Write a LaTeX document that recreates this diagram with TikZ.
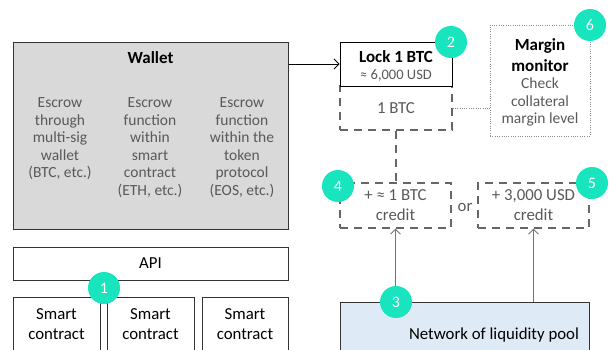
\documentclass[tikz,border=0pt]{standalone}
\usepackage{fontspec}
\setmainfont{Carlito}
\usetikzlibrary{arrows.meta}
\definecolor{badgegreen}{RGB}{24,228,190}
\definecolor{walletgray}{RGB}{217,217,217}
\definecolor{poolblue}{RGB}{222,234,246}
\colorlet{textgray}{black!65}
\colorlet{linegray}{black!60}

\begin{document}
\begin{tikzpicture}[x=1pt,y=-1pt,
    box/.style={draw=black!80, line width=1pt, inner sep=0pt},
    dashbox/.style={draw=linegray, line width=1.3pt, dash pattern=on 8pt off 6pt, inner sep=0pt},
    dotbox/.style={draw=black!45, line width=0.9pt, dash pattern=on 1pt off 1.3pt, inner sep=0pt},
    title/.style={inner sep=0pt, font=\fontsize{17}{21}\selectfont\bfseries, align=center},
    note/.style={inner sep=0pt, text=textgray, font=\fontsize{15.5}{17.5}\selectfont, align=center},
    plain/.style={inner sep=0pt, font=\fontsize{16.8}{20}\selectfont, align=center},
    credittext/.style={inner sep=0pt, text=textgray, font=\fontsize{16.8}{20}\selectfont, align=center},
    badge/.style={circle, fill=badgegreen, minimum size=32pt, inner sep=0pt, text=white, font=\fontsize{16}{16}\selectfont},
    arrowline/.style={draw=black!55, line width=0.8pt, -{Straight Barb[length=5pt, width=10pt]}}
  ]
  \useasboundingbox (0,0) rectangle (612,349);
  \clip (0,0) rectangle (612,349);

  % left column
  \node[box, fill=walletgray, minimum width=275pt, minimum height=187pt] (wallet) at (150.5,135.5) {};
  \node[title] (wallettitle) at (150.5,58) {Wallet};
  \foreach \x/\txt [count=\i] in {60/{Escrow\\through\\multi-sig\\wallet\\(BTC, etc.)},
      150/{Escrow\\function\\within\\smart\\contract\\(ETH, etc.)},
      242/{Escrow\\function\\within the\\token\\protocol\\(EOS, etc.)}}{
    \node[note, anchor=north] (escrow\i) at (\x,97.5) {\txt};
  }
  \node[box, minimum width=275pt, minimum height=33pt, font=\fontsize{16.8}{20}\selectfont] (api) at (150.5,263.5) {API};
  \foreach \x/\w [count=\i] in {56.5/87, 150.5/87, 245/86}{
    \node[box, minimum width=\w pt, minimum height=63pt] (contract\i) at (\x,328.5) {};
    \node[plain] (contracttext\i) at (\x,324) {Smart\\contract};
  }

  % right column
  \node[dashbox, minimum width=112pt, minimum height=44pt, text=textgray, font=\fontsize{16.8}{20}\selectfont] (btc) at (396,108) {1 BTC};
  \node[box, draw=black, fill=white, minimum width=112pt, minimum height=44pt] (lock) at (396,64) {};
  \node[title] (locktitle) at (396,57) {Lock 1 BTC};
  \node[note, font=\fontsize{14.5}{16}\selectfont] (lockusd) at (396,76) {≈ 6,000 USD};

  \node[dotbox, minimum width=100pt, minimum height=111pt] (margin) at (540,80.5) {};
  \node[title, anchor=north] (margintitle) at (540,38) {Margin\\monitor};
  \node[note, anchor=north] (margintext) at (540,78) {Check\\collateral\\margin level};

  \node[dashbox, minimum width=111pt, minimum height=45pt] (credit1) at (395.5,205.5) {};
  \node[credittext] (credittext1) at (395.5,205) {+ ≈ 1 BTC\\credit};
  \node[dashbox, minimum width=111pt, minimum height=45pt] (credit2) at (533.5,205.5) {};
  \node[credittext] (credittext2) at (533.5,205) {+ 3,000 USD\\credit};
  \node[credittext] (orlabel) at (465,207) {or};

  \node[box, fill=poolblue, minimum width=249pt, minimum height=68pt] (pool) at (464.5,336) {};
  \node[plain] (pooltext) at (494,335) {Network of liquidity pool};

  % connectors
  \draw[black, line width=0.8pt, -{Straight Barb[length=5pt, width=10pt]}] (wallet.east |- lock.west) -- (lock.west);
  \draw[black!45, line width=0.9pt, dash pattern=on 1pt off 1.3pt] (btc.east) -- (margin.west |- btc.east);
  \draw[linegray, line width=1.3pt, dash pattern=on 8pt off 6pt] (btc.south) -- (credit1.north -| btc.south);
  \draw[arrowline] (pool.north -| credit1.south) -- (credit1.south);
  \draw[arrowline] (pool.north -| credit2.south) -- (credit2.south);

  % badges
  \foreach \n/\x/\y in {1/104/288, 2/451/42, 3/396/302, 4/338/186, 5/592/183, 6/590/25}{
    \node[badge] (badge\n) at (\x,\y) {\n};
  }
\end{tikzpicture}
\end{document}
